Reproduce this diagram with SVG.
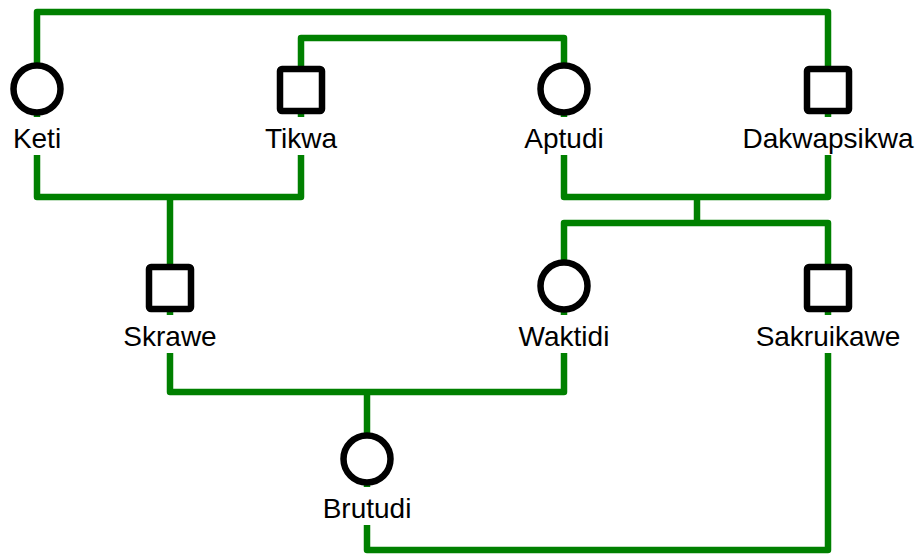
<svg xmlns="http://www.w3.org/2000/svg" width="918" height="556" viewBox="0 0 918 556">
  <style>
    .link { fill: none; stroke: #008000; stroke-width: 6.5; stroke-linejoin: round; stroke-linecap: butt; }
    .shape { fill: #ffffff; stroke: #000000; stroke-width: 6.5; }
    .bg { fill: #ffffff; }
    .label { font-family: "Liberation Sans", Arial, sans-serif; font-size: 28px; fill: #000000; text-anchor: middle; }
  </style>
  <rect width="918" height="556" fill="#ffffff"/>

  <!-- couples, descent lines and sibling bars -->
  <g id="connectors">
    <path class="link" d="M37 89 V12 H828 V89"/>
    <path class="link" d="M301 89 V38 H564 V89"/>
    <path class="link" d="M37 89 V197 H301 V89"/>
    <path class="link" d="M170 197 V287"/>
    <path class="link" d="M564 89 V197 H828 V89"/>
    <path class="link" d="M697 197 V223"/>
    <path class="link" d="M564 287 V223 H828 V287"/>
    <path class="link" d="M170 287 V392 H564 V287"/>
    <path class="link" d="M367 392 V459"/>
    <path class="link" d="M367 459 V550 H828 V287"/>
  </g>

  <g id="keti">
    <circle class="shape" cx="37" cy="89" r="23.5"/>
    <rect class="bg" x="12" y="117" width="50" height="38"/>
    <text class="label" x="37" y="148">Keti</text>
  </g>
  <g id="tikwa">
    <rect class="shape" x="280" y="69" width="42" height="42" rx="2"/>
    <rect class="bg" x="266" y="117" width="70" height="38"/>
    <text class="label" x="301" y="148">Tikwa</text>
  </g>
  <g id="aptudi">
    <circle class="shape" cx="564" cy="89" r="23.5"/>
    <rect class="bg" x="520" y="117" width="88" height="38"/>
    <text class="label" x="564" y="148">Aptudi</text>
  </g>
  <g id="dakwapsikwa">
    <rect class="shape" x="807" y="69" width="42" height="42" rx="2"/>
    <rect class="bg" x="738" y="117" width="178" height="38"/>
    <text class="label" x="828" y="148">Dakwapsikwa</text>
  </g>
  <g id="skrawe">
    <rect class="shape" x="149" y="267" width="42" height="42" rx="2"/>
    <rect class="bg" x="122" y="315" width="96" height="38"/>
    <text class="label" x="170" y="346">Skrawe</text>
  </g>
  <g id="waktidi">
    <circle class="shape" cx="564" cy="286" r="23.5"/>
    <rect class="bg" x="514" y="315" width="100" height="38"/>
    <text class="label" x="564" y="346">Waktidi</text>
  </g>
  <g id="sakruikawe">
    <rect class="shape" x="807" y="267" width="42" height="42" rx="2"/>
    <rect class="bg" x="754" y="315" width="148" height="38"/>
    <text class="label" x="828" y="346">Sakruikawe</text>
  </g>
  <g id="brutudi">
    <circle class="shape" cx="367" cy="459" r="23.5"/>
    <rect class="bg" x="318" y="487" width="98" height="38"/>
    <text class="label" x="367" y="518">Brutudi</text>
  </g>
</svg>
